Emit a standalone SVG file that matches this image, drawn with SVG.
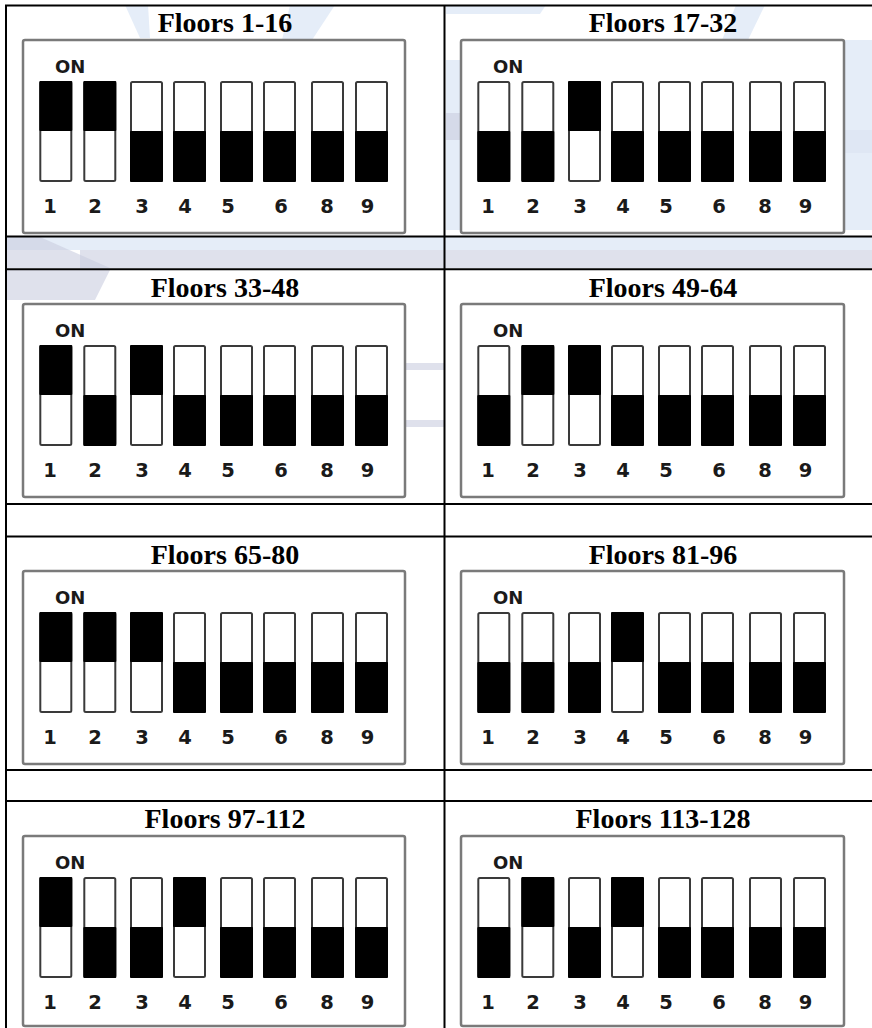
<svg xmlns="http://www.w3.org/2000/svg" width="872" height="1028" viewBox="0 0 872 1028">
<style>
.title{font-family:"Liberation Serif","Times New Roman",serif;font-weight:bold;font-size:28px;fill:#000;text-anchor:middle}
.on{font-family:"DejaVu Sans",sans-serif;font-weight:bold;font-size:18px;fill:#1a1a1a}
.num{font-family:"DejaVu Sans",sans-serif;font-weight:bold;font-size:19.5px;fill:#1a1a1a;text-anchor:middle}
.box{fill:#fff;stroke:#7a7a7a;stroke-width:2.5}
.grid{stroke:#000;stroke-width:2;fill:none}
.wm{fill:#c9cde0;opacity:0.6}
.wm2{fill:#dfe8f6;opacity:0.8}
</style>
<defs>
<g id="sw1">
<rect x="1" y="1" width="31" height="99" rx="1.5" fill="#fff" stroke="#3a3a3a" stroke-width="2"/>
<rect x="0" y="0" width="33" height="50" rx="1" fill="#000"/>
</g>
<g id="sw0">
<rect x="1" y="1" width="31" height="99" rx="1.5" fill="#fff" stroke="#3a3a3a" stroke-width="2"/>
<rect x="0" y="50" width="33" height="51" rx="1" fill="#000"/>
</g>
<g id="labels">
<text class="on" x="32" y="33">ON</text>
<text class="num" x="27" y="173">1</text>
<text class="num" x="72" y="173">2</text>
<text class="num" x="119" y="173">3</text>
<text class="num" x="162" y="173">4</text>
<text class="num" x="205" y="173">5</text>
<text class="num" x="258" y="173">6</text>
<text class="num" x="304" y="173">8</text>
<text class="num" x="344.5" y="173">9</text>
</g>
</defs>
<rect x="0" y="0" width="872" height="1028" fill="#fff"/>
<g id="watermark">
<polygon class="wm2" points="290,5 335,5 312,40 282,40"/>
<polygon class="wm2" points="446,5 546,5 540,14 446,14"/>
<polygon class="wm2" points="736,5 765,5 748,40 722,40"/>
<polygon class="wm2" points="125,5 148,5 150,38 140,38"/>
<polygon class="wm2" points="7,237 872,237 872,250 7,250"/>
<polygon class="wm" points="7,237 40,237 110,268 7,268"/>
<polygon class="wm" points="80,250 872,250 872,268 80,268"/>
<polygon class="wm" points="7,270 110,270 95,300 7,300"/>
<polygon class="wm2" points="446,60 462,60 462,230 446,230"/>
<polygon class="wm" points="446,113 462,113 462,140 446,140"/>
<polygon class="wm" points="845,130 872,130 872,153 845,153"/>
<polygon class="wm2" points="845,40 872,40 872,230 845,230"/>
<polygon class="wm" points="406,363 444,363 444,370 406,370"/>
<polygon class="wm" points="406,420 444,420 444,427 406,427"/>
</g>
<g id="connectors">
<line class="grid" x1="5" y1="5.5" x2="872" y2="5.5"/>
<line class="grid" x1="6" y1="5" x2="6" y2="1028"/>
<line class="grid" x1="444.5" y1="5" x2="444.5" y2="1028"/>
<line class="grid" x1="5" y1="236.5" x2="872" y2="236.5"/>
<line class="grid" x1="5" y1="269.3" x2="872" y2="269.3"/>
<line class="grid" x1="5" y1="504" x2="872" y2="504"/>
<line class="grid" x1="5" y1="536.5" x2="872" y2="536.5"/>
<line class="grid" x1="5" y1="770" x2="872" y2="770"/>
<line class="grid" x1="5" y1="801" x2="872" y2="801"/>
</g>
<g id="floors-1-16" transform="translate(23,40)">
<text class="title" x="202" y="-8">Floors 1-16</text>
<rect class="box" x="0" y="0" width="382" height="193" rx="2"/>
<use href="#labels"/>
<use href="#sw1" x="16.3" y="41"/><use href="#sw1" x="60.3" y="41"/><use href="#sw0" x="107" y="41"/><use href="#sw0" x="150" y="41"/><use href="#sw0" x="197" y="41"/><use href="#sw0" x="240" y="41"/><use href="#sw0" x="288" y="41"/><use href="#sw0" x="332" y="41"/>
</g>
<g id="floors-17-32" transform="translate(461,40)">
<text class="title" x="202" y="-8">Floors 17-32</text>
<rect class="box" x="0" y="0" width="383" height="193" rx="2"/>
<use href="#labels"/>
<use href="#sw0" x="16.3" y="41"/><use href="#sw0" x="60.3" y="41"/><use href="#sw1" x="107" y="41"/><use href="#sw0" x="150" y="41"/><use href="#sw0" x="197" y="41"/><use href="#sw0" x="240" y="41"/><use href="#sw0" x="288" y="41"/><use href="#sw0" x="332" y="41"/>
</g>
<g id="floors-33-48" transform="translate(23,304)">
<text class="title" x="202" y="-7">Floors 33-48</text>
<rect class="box" x="0" y="0" width="382" height="193" rx="2"/>
<use href="#labels"/>
<use href="#sw1" x="16.3" y="41"/><use href="#sw0" x="60.3" y="41"/><use href="#sw1" x="107" y="41"/><use href="#sw0" x="150" y="41"/><use href="#sw0" x="197" y="41"/><use href="#sw0" x="240" y="41"/><use href="#sw0" x="288" y="41"/><use href="#sw0" x="332" y="41"/>
</g>
<g id="floors-49-64" transform="translate(461,304)">
<text class="title" x="202" y="-7">Floors 49-64</text>
<rect class="box" x="0" y="0" width="383" height="193" rx="2"/>
<use href="#labels"/>
<use href="#sw0" x="16.3" y="41"/><use href="#sw1" x="60.3" y="41"/><use href="#sw1" x="107" y="41"/><use href="#sw0" x="150" y="41"/><use href="#sw0" x="197" y="41"/><use href="#sw0" x="240" y="41"/><use href="#sw0" x="288" y="41"/><use href="#sw0" x="332" y="41"/>
</g>
<g id="floors-65-80" transform="translate(23,571)">
<text class="title" x="202" y="-7">Floors 65-80</text>
<rect class="box" x="0" y="0" width="382" height="193" rx="2"/>
<use href="#labels"/>
<use href="#sw1" x="16.3" y="41"/><use href="#sw1" x="60.3" y="41"/><use href="#sw1" x="107" y="41"/><use href="#sw0" x="150" y="41"/><use href="#sw0" x="197" y="41"/><use href="#sw0" x="240" y="41"/><use href="#sw0" x="288" y="41"/><use href="#sw0" x="332" y="41"/>
</g>
<g id="floors-81-96" transform="translate(461,571)">
<text class="title" x="202" y="-7">Floors 81-96</text>
<rect class="box" x="0" y="0" width="383" height="193" rx="2"/>
<use href="#labels"/>
<use href="#sw0" x="16.3" y="41"/><use href="#sw0" x="60.3" y="41"/><use href="#sw0" x="107" y="41"/><use href="#sw1" x="150" y="41"/><use href="#sw0" x="197" y="41"/><use href="#sw0" x="240" y="41"/><use href="#sw0" x="288" y="41"/><use href="#sw0" x="332" y="41"/>
</g>
<g id="floors-97-112" transform="translate(23,836)">
<text class="title" x="202" y="-8">Floors 97-112</text>
<rect class="box" x="0" y="0" width="382" height="190" rx="2"/>
<use href="#labels"/>
<use href="#sw1" x="16.3" y="41"/><use href="#sw0" x="60.3" y="41"/><use href="#sw0" x="107" y="41"/><use href="#sw1" x="150" y="41"/><use href="#sw0" x="197" y="41"/><use href="#sw0" x="240" y="41"/><use href="#sw0" x="288" y="41"/><use href="#sw0" x="332" y="41"/>
</g>
<g id="floors-113-128" transform="translate(461,836)">
<text class="title" x="202" y="-8">Floors 113-128</text>
<rect class="box" x="0" y="0" width="383" height="190" rx="2"/>
<use href="#labels"/>
<use href="#sw0" x="16.3" y="41"/><use href="#sw1" x="60.3" y="41"/><use href="#sw0" x="107" y="41"/><use href="#sw1" x="150" y="41"/><use href="#sw0" x="197" y="41"/><use href="#sw0" x="240" y="41"/><use href="#sw0" x="288" y="41"/><use href="#sw0" x="332" y="41"/>
</g>
</svg>
